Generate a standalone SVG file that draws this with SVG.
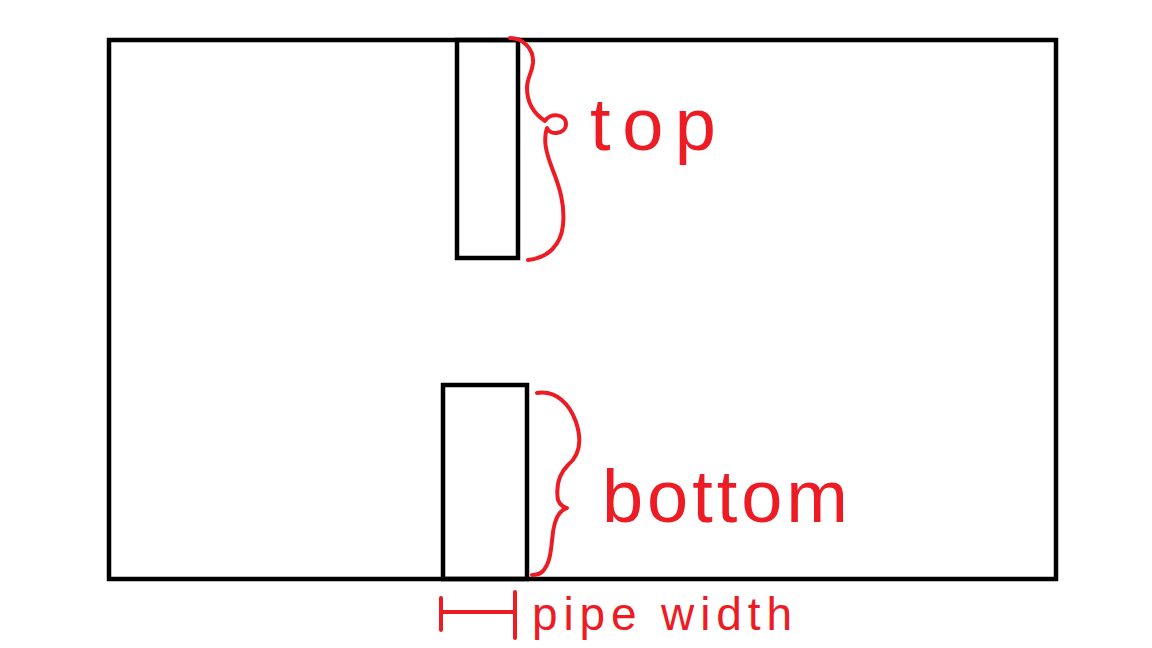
<svg xmlns="http://www.w3.org/2000/svg" width="1152" height="648" viewBox="0 0 1152 648">
  <style>
    .box { fill: none; stroke: #000; stroke-width: 4.5; }
    .red { fill: none; stroke: #ED1C24; stroke-width: 4; stroke-linecap: round; stroke-linejoin: round; }
    .lbl { fill: #ED1C24; font-family: "Liberation Sans", Arial, sans-serif; }
  </style>
  <rect width="1152" height="648" fill="#fff"/>
  <g id="frame">
    <rect class="box" x="109" y="40" width="947" height="539"/>
  </g>
  <g id="top-pipe">
    <rect class="box" x="457" y="40" width="61" height="218"/>
  </g>
  <g id="bottom-pipe">
    <rect class="box" x="443" y="385" width="84" height="194"/>
  </g>
  <g id="connectors">
    <path class="red" d="M510,38 C522,38 534,48 533,63 C532,73 527,78 527,88 C527,103 533,113 545,121 C550,112 566,114 566,124 C566,134 550,136 547,128 C543,140 546,152 552,168 C560,188 565,205 563,225 C561,245 548,258 528,260"/>
    <path class="red" d="M537,393 C557,390 570,405 576,422 C582,440 580,455 568,465 C558,475 556,488 558,500 C560,506 566,508 567,508 C560,510 555,518 553,532 C551,548 551,562 543,571 C540,574 535,575 532,575"/>
    <path class="red" d="M441,598 L441,630 M441,612 L514,612 M515,592 L515,638"/>
  </g>
  <g id="label-top">
    <text class="lbl" x="590" y="150" font-size="74" textLength="126" lengthAdjust="spacing">top</text>
  </g>
  <g id="label-bottom">
    <text class="lbl" x="602" y="522" font-size="74" textLength="246" lengthAdjust="spacing">bottom</text>
  </g>
  <g id="label-pipe-width">
    <text class="lbl" x="532" y="630" font-size="46" textLength="260" lengthAdjust="spacing">pipe width</text>
  </g>
</svg>
